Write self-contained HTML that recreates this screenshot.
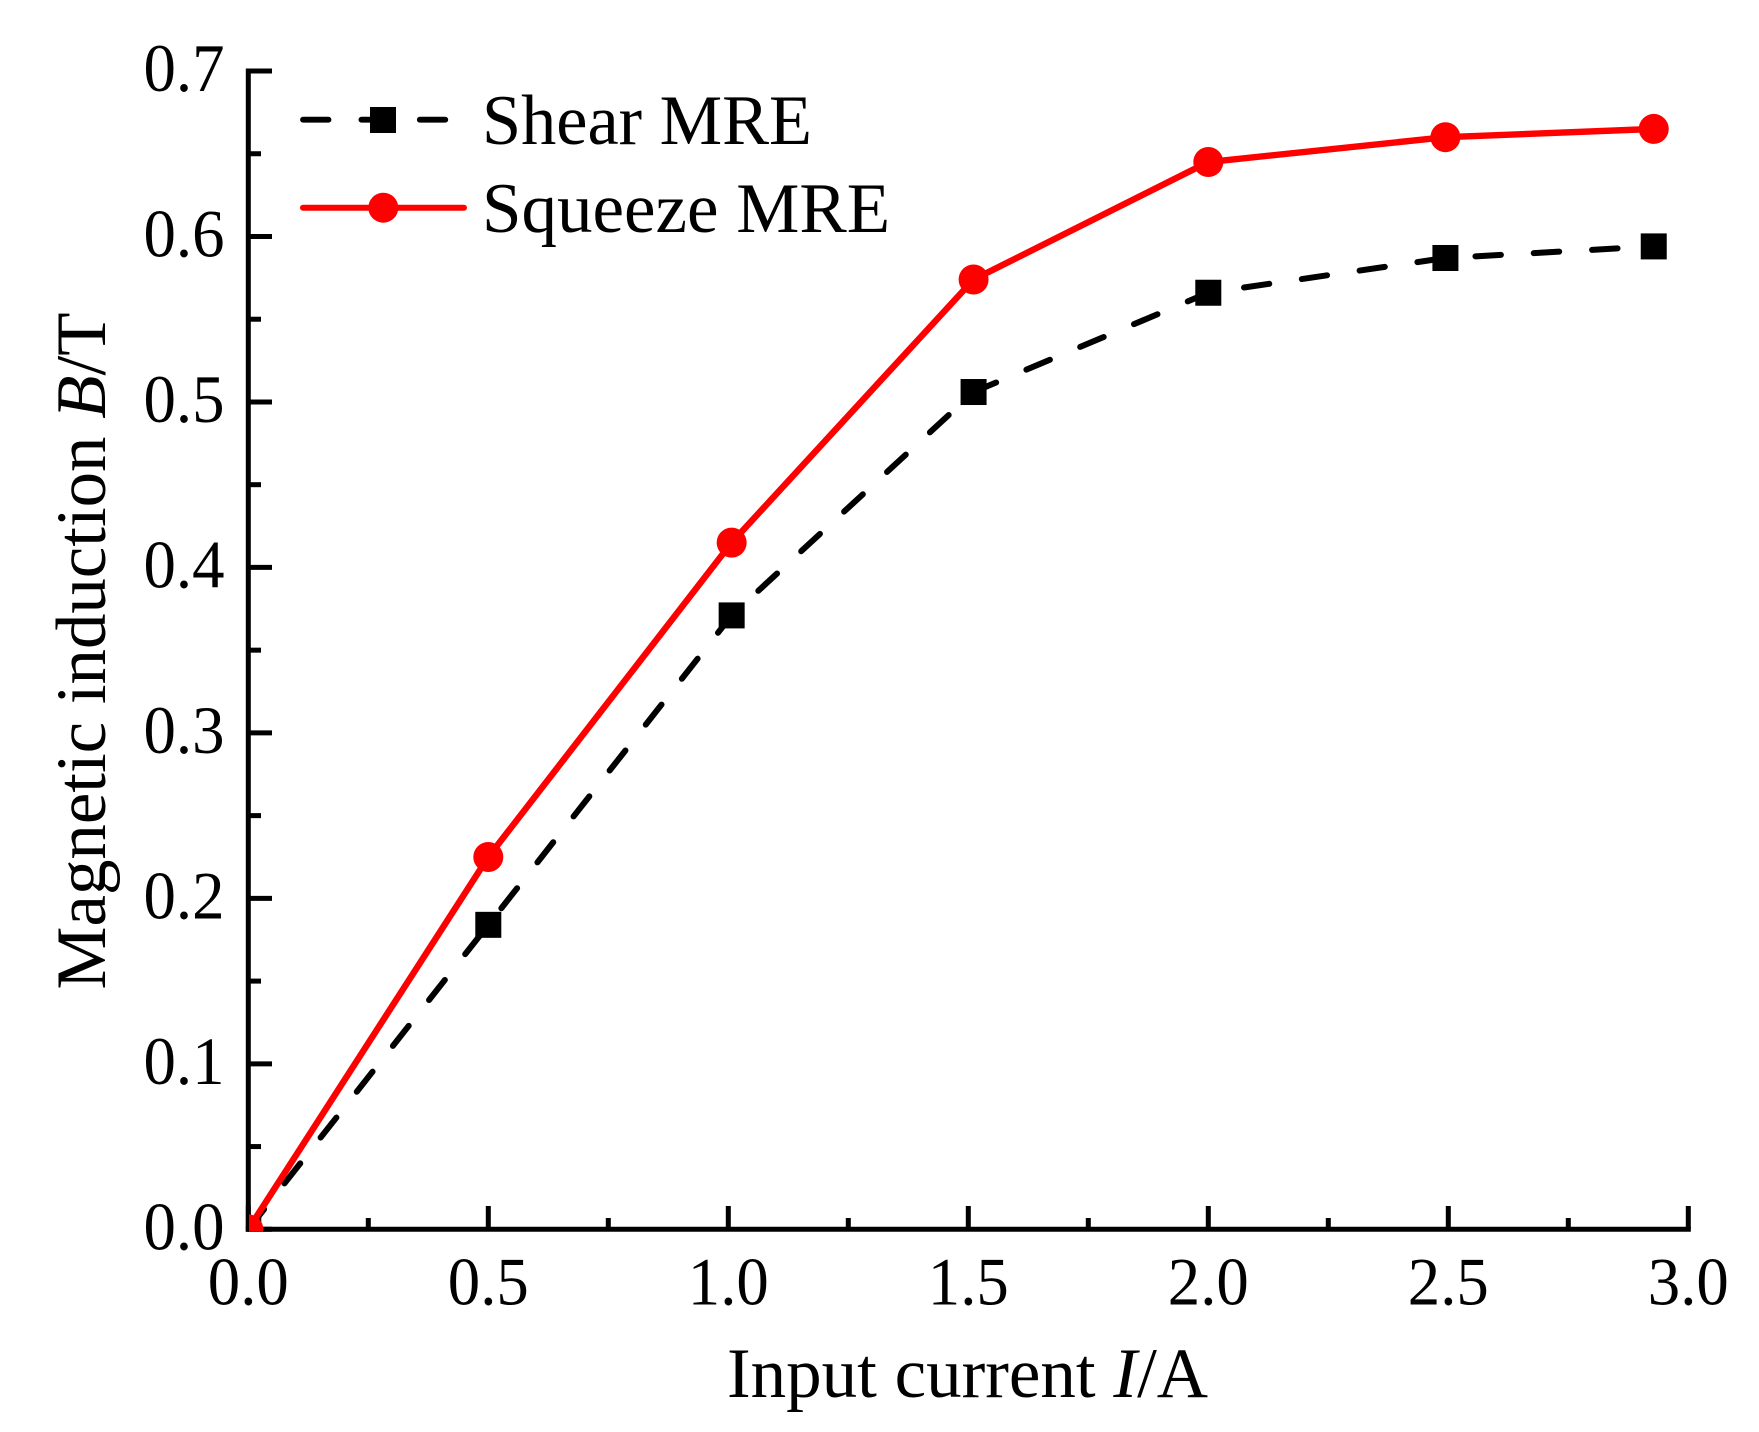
<!DOCTYPE html>
<html lang="en">
<head>
<meta charset="utf-8">
<title>Magnetic induction vs input current</title>
<style>
  html, body { margin: 0; padding: 0; background: #ffffff; }
  #chart { display: block; }
  text { font-family: "Liberation Serif", "Times New Roman", serif; fill: #000000; }
</style>
</head>
<body>
<svg id="chart" xmlns="http://www.w3.org/2000/svg" width="1759" height="1432" viewBox="0 0 1759 1432">
  <defs>
    <clipPath id="plot-clip">
      <rect x="249" y="60" width="1460" height="1171.7"></rect>
    </clipPath>
  </defs>
  <rect x="0" y="0" width="1759" height="1432" fill="#ffffff"></rect>
  <g id="series-layer" clip-path="url(#plot-clip)"></g>
  <g id="axis-layer"></g>

  <text x="727" y="1397" font-size="71">Input current <tspan font-style="italic">I</tspan>/A</text>
  <text transform="translate(105 989.5) rotate(-90)" font-size="71" textLength="677" lengthAdjust="spacingAndGlyphs">Magnetic induction <tspan font-style="italic">B</tspan>/T</text>

  <g>
    <g>
      <line x1="303" y1="119.7" x2="467" y2="119.7" stroke="#000000" stroke-width="5.8" stroke-linecap="round" stroke-dasharray="25.5 32.9"></line>
      <rect x="370" y="107" width="26" height="26" fill="#000000"></rect>
      <text x="482" y="144" font-size="71" textLength="330" lengthAdjust="spacingAndGlyphs">Shear MRE</text>
    </g>
    <g>
      <line x1="303" y1="207.7" x2="464" y2="207.7" stroke="#ff0000" stroke-width="6" stroke-linecap="round"></line>
      <circle cx="383.3" cy="207.7" r="15" fill="#ff0000"></circle>
      <text x="482" y="232" font-size="71">Squeeze MRE</text>
    </g>
  </g>
</svg>

<script>
const currents = [0, 0.5, 1.007, 1.511, 2.0, 2.494, 2.928];
const shearMRE = [0, 0.184, 0.371, 0.506, 0.566, 0.587, 0.594];
const squeezeMRE = [0, 0.225, 0.415, 0.574, 0.645, 0.660, 0.665];
const xTickLabels = ['0.0', '0.5', '1.0', '1.5', '2.0', '2.5', '3.0'];
const yTickLabels = ['0.0', '0.1', '0.2', '0.3', '0.4', '0.5', '0.6', '0.7'];

const NS = 'http://www.w3.org/2000/svg';
const X0 = 248.3, X_PER_UNIT = 480;
const Y0 = 1229.3, Y_PER_UNIT = 1654.7;
function xScale(v) { return X0 + v * X_PER_UNIT; }
function yScale(v) { return Y0 - v * Y_PER_UNIT; }

function make(tag, attrs) {
  const el = document.createElementNS(NS, tag);
  for (const k in attrs) el.setAttribute(k, attrs[k]);
  return el;
}

const axisLayer = document.getElementById('axis-layer');
const seriesLayer = document.getElementById('series-layer');
const AXIS_W = 5;
const LABEL_W = 81;
const xMax = parseFloat(xTickLabels[xTickLabels.length - 1]);
const yMax = parseFloat(yTickLabels[yTickLabels.length - 1]);

/* axis lines */
const xAxis = make('line', { x1: X0 - AXIS_W / 2, y1: Y0, x2: xScale(xMax) + AXIS_W / 2, y2: Y0, stroke: '#000', 'stroke-width': AXIS_W });


axisLayer.appendChild(xAxis);

const yAxis = make('line', { x1: X0, y1: Y0 + AXIS_W / 2, x2: X0, y2: yScale(yMax) - AXIS_W / 2, stroke: '#000', 'stroke-width': AXIS_W });


axisLayer.appendChild(yAxis);

/* x ticks */
xTickLabels.forEach(function (label, i) {
  const v = parseFloat(label);
  const x = xScale(v);
  const tick = make('line', { x1: x, y1: Y0, x2: x, y2: 1206, stroke: '#000', 'stroke-width': AXIS_W });
  
  
  axisLayer.appendChild(tick);

  const text = make('text', { x: x - LABEL_W / 2, y: 1304.5, 'font-size': 68, textLength: LABEL_W, lengthAdjust: 'spacingAndGlyphs' });
  text.textContent = label;
  
  
  axisLayer.appendChild(text);

  if (i < xTickLabels.length - 1) {
    const next = parseFloat(xTickLabels[i + 1]);
    const mx = xScale((v + next) / 2);
    const minor = make('line', { x1: mx, y1: Y0, x2: mx, y2: 1218, stroke: '#000', 'stroke-width': AXIS_W });
    
    
    axisLayer.appendChild(minor);
  }
});

/* y ticks */
yTickLabels.forEach(function (label, i) {
  const v = parseFloat(label);
  const y = yScale(v);
  const tick = make('line', { x1: X0, y1: y, x2: 272, y2: y, stroke: '#000', 'stroke-width': AXIS_W });
  
  
  axisLayer.appendChild(tick);

  const text = make('text', { x: 224.5 - LABEL_W, y: y + 20, 'font-size': 68, textLength: LABEL_W, lengthAdjust: 'spacingAndGlyphs' });
  text.textContent = label;
  
  
  axisLayer.appendChild(text);

  if (i < yTickLabels.length - 1) {
    const next = parseFloat(yTickLabels[i + 1]);
    const my = yScale((v + next) / 2);
    const minor = make('line', { x1: X0, y1: my, x2: 261, y2: my, stroke: '#000', 'stroke-width': AXIS_W });
    
    
    axisLayer.appendChild(minor);
  }
});

function pointsFor(values) {
  return values.map(function (v, i) { return xScale(currents[i]) + ',' + yScale(v); }).join(' ');
}

/* shear series */
const shearLine = make('polyline', { points: pointsFor(shearMRE), fill: 'none', stroke: '#000000', 'stroke-width': 6, 'stroke-linecap': 'round', 'stroke-linejoin': 'round', 'stroke-dasharray': '25.5 32.9' });


seriesLayer.appendChild(shearLine);

shearMRE.forEach(function (v, i) {
  const m = make('rect', { x: xScale(currents[i]) - 13, y: yScale(v) - 13, width: 26, height: 26, fill: '#000000' });
  
  
  seriesLayer.appendChild(m);
});

/* squeeze series */
const squeezeLine = make('polyline', { points: pointsFor(squeezeMRE), fill: 'none', stroke: '#ff0000', 'stroke-width': 6.4, 'stroke-linejoin': 'round' });


seriesLayer.appendChild(squeezeLine);

squeezeMRE.forEach(function (v, i) {
  const c = make('circle', { cx: xScale(currents[i]), cy: yScale(v), r: 15, fill: '#ff0000' });
  
  
  seriesLayer.appendChild(c);
});

/* the series sit on top of the axis line in the reference */
document.getElementById('chart').insertBefore(axisLayer, seriesLayer);
</script>
</body>
</html>
